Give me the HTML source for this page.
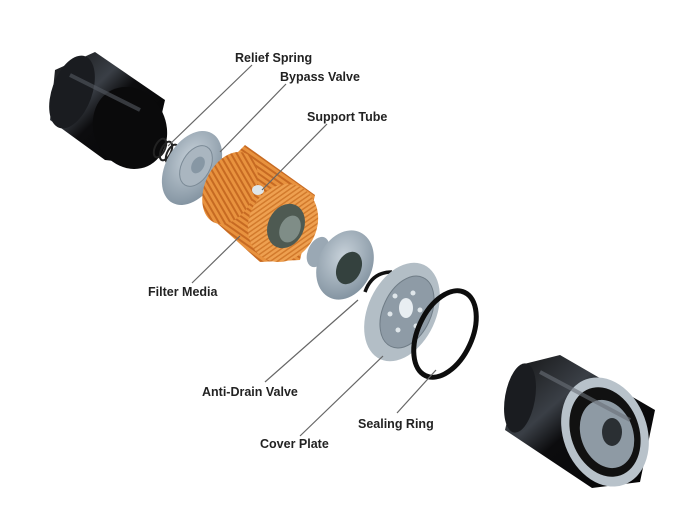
<!DOCTYPE html>
<html><head><meta charset="utf-8"><style>
html,body{margin:0;padding:0;background:#fff;}
svg{display:block}
text{font-family:"Liberation Sans",sans-serif;font-weight:bold;font-size:12.5px;fill:#222}
</style></head><body>
<svg width="695" height="523" viewBox="0 0 695 523" xmlns="http://www.w3.org/2000/svg">
<defs>
<linearGradient id="can" x1="0" y1="0" x2="1" y2="1">
<stop offset="0" stop-color="#111"/><stop offset="0.35" stop-color="#3a3f46"/><stop offset="0.5" stop-color="#0c0c0e"/><stop offset="1" stop-color="#050505"/>
</linearGradient>
<radialGradient id="disc" cx="0.4" cy="0.4" r="0.7">
<stop offset="0" stop-color="#c8d2da"/><stop offset="1" stop-color="#7d8e9c"/>
</radialGradient>
<pattern id="pleat" width="5" height="5" patternUnits="userSpaceOnUse" patternTransform="rotate(-55)">
<rect width="5" height="5" fill="#e8923e"/><rect width="2" height="5" fill="#c76a22"/>
</pattern>
<pattern id="pleat2" width="4" height="4" patternUnits="userSpaceOnUse" patternTransform="rotate(30)">
<rect width="4" height="4" fill="#eea050"/><rect width="1.5" height="4" fill="#d27a2c"/>
</pattern>
</defs>

<g>
<polygon points="55,70 95,52 165,100 150,165 105,160 50,120" fill="url(#can)"/>
<ellipse cx="72" cy="92" rx="20" ry="38" transform="rotate(20 72 92)" fill="#1a1c20"/>
<ellipse cx="130" cy="128" rx="36" ry="42" transform="rotate(-25 130 128)" fill="#0a0a0b"/>
<path d="M70,75 L140,110" stroke="#555a62" stroke-width="4" opacity="0.6"/>
</g>
<g stroke="#222" stroke-width="2" fill="none">
<ellipse cx="160" cy="148" rx="5" ry="10" transform="rotate(25 160 148)"/>
<ellipse cx="166" cy="151" rx="5" ry="10" transform="rotate(25 166 151)"/>
<ellipse cx="172" cy="154" rx="5" ry="10" transform="rotate(25 172 154)"/>
</g>
<ellipse cx="192" cy="168" rx="26" ry="40" transform="rotate(30 192 168)" fill="url(#disc)"/>
<ellipse cx="196" cy="166" rx="14" ry="22" transform="rotate(30 196 166)" fill="#aab6c0" stroke="#7b8a96"/>
<ellipse cx="198" cy="165" rx="6" ry="9" transform="rotate(30 198 165)" fill="#8797a4"/>
<polygon points="215,175 245,145 315,195 300,260 260,262 208,215" fill="url(#pleat)"/>
<ellipse cx="230" cy="188" rx="25" ry="38" transform="rotate(25 230 188)" fill="url(#pleat)"/>
<ellipse cx="283" cy="223" rx="34" ry="40" transform="rotate(25 283 223)" fill="url(#pleat2)"/>
<ellipse cx="286" cy="226" rx="18" ry="23" transform="rotate(25 286 226)" fill="#4e5a52"/>
<ellipse cx="290" cy="229" rx="10" ry="14" transform="rotate(25 290 229)" fill="#7f8d87"/>
<ellipse cx="258" cy="190" rx="6" ry="5" fill="#dfe6ea"/>
<ellipse cx="318" cy="252" rx="10" ry="16" transform="rotate(25 318 252)" fill="#9aa8b4"/>
<ellipse cx="345" cy="265" rx="27" ry="36" transform="rotate(25 345 265)" fill="url(#disc)"/>
<ellipse cx="349" cy="268" rx="12" ry="17" transform="rotate(25 349 268)" fill="#34413e"/>
<path d="M365,292 Q372,272 392,272" stroke="#111" stroke-width="3.5" fill="none"/>
<ellipse cx="402" cy="312" rx="34" ry="52" transform="rotate(25 402 312)" fill="#b3bec6"/>
<ellipse cx="407" cy="312" rx="24" ry="38" transform="rotate(25 407 312)" fill="#8e9ba6" stroke="#6f7c86"/>
<ellipse cx="406" cy="308" rx="7" ry="10" fill="#e8eef2"/>
<g fill="#dfe6ea"><circle cx="395" cy="296" r="2.5"/><circle cx="413" cy="293" r="2.5"/><circle cx="420" cy="310" r="2.5"/><circle cx="416" cy="326" r="2.5"/><circle cx="398" cy="330" r="2.5"/><circle cx="390" cy="314" r="2.5"/></g>
<ellipse cx="445" cy="334" rx="27" ry="46" transform="rotate(25 445 334)" fill="none" stroke="#0d0d0d" stroke-width="5"/>
<g>
<polygon points="520,365 560,355 655,410 640,482 592,488 505,430" fill="url(#can)"/>
<ellipse cx="520" cy="398" rx="15" ry="35" transform="rotate(10 520 398)" fill="#1a1c20"/>
<ellipse cx="605" cy="432" rx="42" ry="56" transform="rotate(-20 605 432)" fill="#b8c2ca"/>
<ellipse cx="605" cy="432" rx="34" ry="46" transform="rotate(-20 605 432)" fill="#111"/>
<ellipse cx="607" cy="434" rx="26" ry="35" transform="rotate(-20 607 434)" fill="#8e9aa4"/>
<ellipse cx="612" cy="432" rx="10" ry="14" fill="#2a2f33"/>
<path d="M540,372 L630,420" stroke="#6a7078" stroke-width="4" opacity="0.6"/>
</g>

<g stroke="#666" stroke-width="1.2">
<line x1="252" y1="65" x2="168" y2="146"/>
<line x1="286" y1="84" x2="220" y2="152"/>
<line x1="327" y1="124" x2="262" y2="190"/>
<line x1="192" y1="283" x2="240" y2="236"/>
<line x1="265" y1="382" x2="358" y2="300"/>
<line x1="300" y1="436" x2="383" y2="356"/>
<line x1="397" y1="413" x2="436" y2="370"/>
</g>
<text x="235" y="62">Relief Spring</text>
<text x="280" y="81">Bypass Valve</text>
<text x="307" y="121">Support Tube</text>
<text x="148" y="296">Filter Media</text>
<text x="202" y="396">Anti-Drain Valve</text>
<text x="358" y="428">Sealing Ring</text>
<text x="260" y="448">Cover Plate</text>
</svg>
</body></html>
